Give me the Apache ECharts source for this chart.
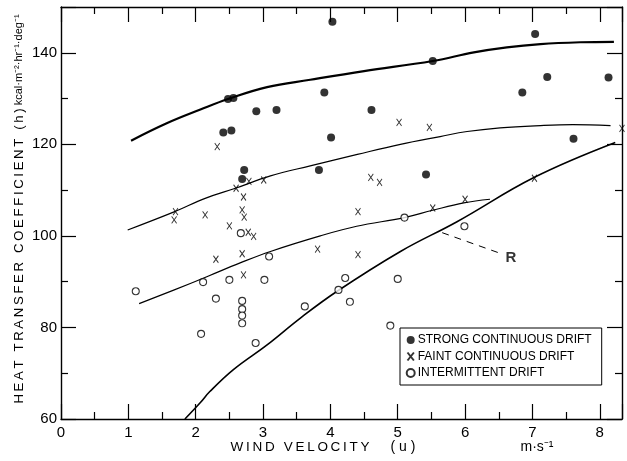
<!DOCTYPE html>
<html><head><meta charset="utf-8">
<script src="https://cdn.jsdelivr.net/npm/echarts@6/dist/echarts.min.js"></script>
<style>html,body{margin:0;padding:0;background:#fff}#c{width:627px;height:461px}</style>
</head><body><div id="c"></div>
<script>
// ---- data ----
const xTicks = [0,1,2,3,4,5,6,7,8];
const yTicks = [60,80,100,120,140];
const strongDrift = [[2.48,129.9],[2.56,130.1],[4.03,146.8],[7.04,144.1],[5.52,138.2],[2.41,122.6],[2.53,123.0],[2.90,127.2],[3.20,127.5],[3.91,131.3],[4.61,127.5],[4.01,121.5],[3.83,114.4],[5.42,113.4],[6.85,131.3],[7.22,134.7],[8.13,134.6],[7.61,121.2],[2.72,114.4],[2.69,112.4]];
const faintDrift = [[2.32,119.5],[2.79,111.9],[3.01,112.2],[2.60,110.4],[2.71,108.5],[2.69,105.7],[2.72,104.1],[1.70,105.3],[1.68,103.5],[2.14,104.6],[2.50,102.2],[2.78,100.8],[2.86,99.9],[2.30,94.9],[2.69,96.1],[2.71,91.5],[5.02,124.8],[5.47,123.7],[4.60,112.8],[4.73,111.7],[4.41,105.3],[5.52,106.1],[6.00,108.0],[7.03,112.6],[8.33,123.5],[3.81,97.1],[4.41,95.9]];
const intermittentDrift = [[1.11,87.9],[2.11,89.9],[2.08,78.6],[2.30,86.3],[2.50,90.4],[2.67,100.6],[2.69,85.8],[2.69,84.0],[2.69,82.6],[2.69,80.9],[2.89,76.6],[3.09,95.5],[3.02,90.4],[3.62,84.6],[4.22,90.8],[4.12,88.2],[4.29,85.6],[5.00,90.6],[4.89,80.4],[5.99,102.1],[5.10,104.0]];
const strongCurve = [[1.04,120.8],[1.57,124.6],[2.07,127.6],[2.48,129.9],[3.06,132.5],[3.70,134.1],[4.5,136.0],[5.52,138.2],[6.13,140.1],[6.62,141.2],[7.12,141.9],[7.71,142.3],[8.21,142.4]];
const faintCurve = [[0.99,101.3],[1.67,105.2],[2.16,108.3],[2.59,110.4],[3.11,113.1],[3.70,115.3],[4.4,117.8],[5.04,120.0],[5.63,121.7],[6.03,122.8],[6.52,123.6],[7.12,124.1],[7.6,124.3],[8.16,124.1]];
const intermittentCurve = [[1.16,85.2],[1.92,89.6],[2.2,91.3],[2.66,94.1],[3.11,96.6],[3.85,100.0],[4.39,102.1],[5.10,104.0],[5.52,105.6],[5.98,107.2],[6.37,108.0]];
const rCurve = [[1.84,60],[2.07,63.6],[2.21,66.0],[2.56,70.8],[3.06,76.2],[3.55,82.0],[4.10,87.9],[5.04,96.6],[5.88,103.1],[7.03,112.8],[8.23,120.4]];
const rLeader = [[5.66,100.7],[6.52,96.2]];
const rLabel = [[6.68,95.3]];
const seriesNames = ['STRONG CONTINUOUS DRIFT','FAINT CONTINUOUS DRIFT','INTERMITTENT DRIFT'];

const FONT = "'Liberation Sans', Arial, sans-serif";
const ts = '\u2009';
const spaced = (s, sep) => s.split('').join(sep);
const chart = echarts.init(document.getElementById('c'), null, {renderer:'canvas'});
const axisCommon = {
  axisLine:{show:true, onZero:false, lineStyle:{color:'#000', width:1.4}},
  splitLine:{show:false},
};
const xMin = 0, xMax = 8.33, yMin = 60, yMax = 150;
const xSymbol = 'path://M0,0L8,10M8,0L0,10';
chart.setOption({
  animation:false,
  backgroundColor:'#fff',
  grid:{left:61, right:5, top:7, bottom:42},
  xAxis:[
    Object.assign({type:'value', min:xMin, max:xMax, interval:1, position:'bottom',
      axisTick:{inside:true, length:15, lineStyle:{color:'#000', width:1.2}},
      minorTick:{show:true, splitNumber:2, length:7, lineStyle:{color:'#000', width:1.2}},
      axisLabel:{showMaxLabel:false, color:'#000', fontFamily:FONT, fontSize:15, margin:6,
        formatter:v=> xTicks.includes(v)? String(v):''}}, axisCommon),
    Object.assign({type:'value', min:xMin, max:xMax, interval:1, position:'top',
      axisTick:{inside:true, length:15, lineStyle:{color:'#000', width:1.2}},
      minorTick:{show:true, splitNumber:2, length:7, lineStyle:{color:'#000', width:1.2}},
      axisLabel:{show:false}}, axisCommon)
  ],
  yAxis:[
    Object.assign({type:'value', min:yMin, max:yMax, interval:20, position:'left',
      axisTick:{inside:true, length:15, lineStyle:{color:'#000', width:1.2}},
      minorTick:{show:true, splitNumber:2, length:7, lineStyle:{color:'#000', width:1.2}},
      axisLabel:{showMaxLabel:false, color:'#000', fontFamily:FONT, fontSize:15, margin:4,
        formatter:v=> yTicks.includes(v)? String(v):''}}, axisCommon),
    Object.assign({type:'value', min:yMin, max:yMax, interval:20, position:'right',
      axisTick:{inside:true, length:15, lineStyle:{color:'#000', width:1.2}},
      minorTick:{show:true, splitNumber:2, length:7, lineStyle:{color:'#000', width:1.2}},
      axisLabel:{show:false}}, axisCommon)
  ],
  legend:{
    left:400, top:328, orient:'vertical', data:seriesNames,
    borderColor:'#000', borderWidth:1, padding:[6,10,6,5], itemGap:4,
    itemWidth:8, itemHeight:8, borderRadius:0,
    textStyle:{color:'#000', fontFamily:FONT, fontSize:12, padding:[0,0,0,-2]}
  },
  graphic:[
    {type:'text', x:19, y:209, rotation:Math.PI/2, style:{
      text:'{a|'+spaced('HEAT TRANSFER COEFFICIENT (h)', ts)+'}{b| kcal·m⁻²·hr⁻¹·deg⁻¹}',
      align:'center', verticalAlign:'middle',
      rich:{a:{fontFamily:FONT, fontSize:13.2, fill:'#000'}, b:{fontFamily:FONT, fontSize:11, fill:'#000'}}
    }},
    {type:'text', x:300, y:447, style:{text:spaced('WIND VELOCITY', ts), align:'center', verticalAlign:'middle', fontFamily:FONT, fontSize:13.5, fill:'#000'}},
    {type:'text', x:403, y:447, style:{text:'( u )', align:'center', verticalAlign:'middle', fontFamily:FONT, fontSize:14, fill:'#000'}},
    {type:'text', x:537, y:447, style:{text:'m·s⁻¹', align:'center', verticalAlign:'middle', fontFamily:FONT, fontSize:14, fill:'#000'}}
  ],
  series:[
    {name:seriesNames[0], type:'scatter', data:strongDrift, symbol:'circle', symbolSize:8, itemStyle:{color:'#000'}, z:5},
    {name:seriesNames[1], type:'scatter', data:faintDrift, symbol:xSymbol, symbolSize:[5,7], itemStyle:{color:'none', borderColor:'#000', borderWidth:1}, z:5},
    {name:seriesNames[2], type:'scatter', data:intermittentDrift, symbol:'circle', symbolSize:7, itemStyle:{color:'#fff', borderColor:'#000', borderWidth:1.1}, z:5},
    {type:'line', data:strongCurve, smooth:0.4, showSymbol:false, silent:true, lineStyle:{color:'#000', width:2.2}},
    {type:'line', data:faintCurve, smooth:0.4, showSymbol:false, silent:true, lineStyle:{color:'#000', width:1.2}},
    {type:'line', data:intermittentCurve, smooth:0.4, showSymbol:false, silent:true, lineStyle:{color:'#000', width:1.2}},
    {type:'line', data:rCurve, smooth:0.4, showSymbol:false, silent:true, lineStyle:{color:'#000', width:1.6}},
    {type:'line', data:rLeader, showSymbol:false, silent:true, lineStyle:{color:'#000', width:1, type:[7,6]}},
    {type:'scatter', data:rLabel, symbolSize:0, silent:true,
      label:{show:true, formatter:'R', position:'inside', color:'#000', fontFamily:FONT, fontSize:15, fontWeight:'bold'}}
  ]
});
</script></body></html>
